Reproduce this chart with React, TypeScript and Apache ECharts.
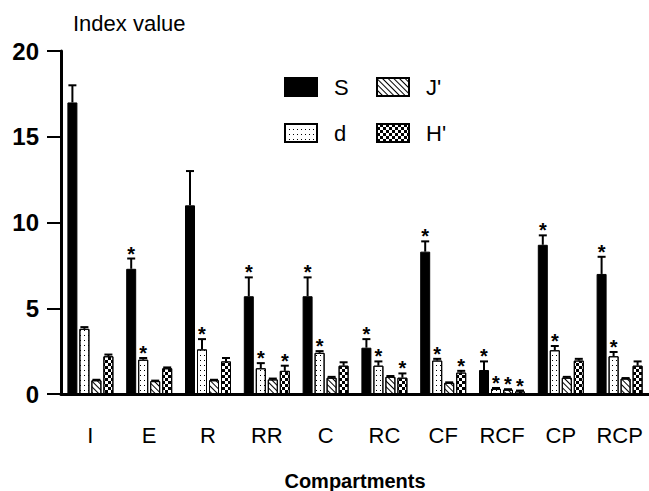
import { useEffect, useRef } from 'react';
import * as echarts from 'echarts';

const categories = ['I', 'E', 'R', 'RR', 'C', 'RC', 'CF', 'RCF', 'CP', 'RCP'];
const seriesNames = ['S', 'd', "J'", "H'"];

const S = [17.0, 7.3, 11.0, 5.7, 5.7, 2.7, 8.3, 1.4, 8.7, 7.0];
const S_err = [1.0, 0.6, 2.0, 1.1, 1.1, 0.5, 0.6, 0.5, 0.55, 1.0];
const S_sig = [0, 1, 0, 1, 1, 1, 1, 1, 1, 1];

const D = [3.8, 2.0, 2.6, 1.5, 2.4, 1.65, 1.95, 0.3, 2.55, 2.2];
const D_err = [0.1, 0.1, 0.6, 0.3, 0.1, 0.25, 0.1, 0.05, 0.25, 0.25];
const D_sig = [0, 1, 1, 1, 1, 1, 1, 1, 1, 1];

const J = [0.8, 0.75, 0.8, 0.85, 0.95, 1.0, 0.65, 0.25, 0.95, 0.9];
const J_err = [0.03, 0.03, 0.03, 0.05, 0.05, 0.05, 0.03, 0.03, 0.05, 0.03];
const J_sig = [0, 0, 0, 0, 0, 0, 0, 1, 0, 0];

const H = [2.2, 1.5, 1.9, 1.35, 1.65, 0.95, 1.25, 0.15, 1.95, 1.65];
const H_err = [0.1, 0.05, 0.2, 0.3, 0.2, 0.25, 0.1, 0.05, 0.1, 0.25];
const H_sig = [0, 0, 0, 1, 0, 1, 1, 1, 0, 0];

const yTicks = { min: 0, max: 20, interval: 5 };

const FONT = "'Liberation Sans', Arial, sans-serif";
const BAR_W = 10;
const PITCH = 12;

export default function App() {
  const ref = useRef<HTMLDivElement>(null);
  useEffect(() => {
    const chart = echarts.init(ref.current!, null, { renderer: 'svg' });

    const decals: any[] = [
      undefined,
      {
        symbol: 'rect',
        color: '#000',
        dashArrayX: [1, 3],
        dashArrayY: [1, 4],
        symbolSize: 1,
        rotation: 0,
      },
      {
        symbol: 'rect',
        color: '#000',
        dashArrayX: [1, 0],
        dashArrayY: [1, 3],
        symbolSize: 1,
        rotation: Math.PI / 4,
      },
      {
        symbol: 'rect',
        color: '#000',
        dashArrayX: [[3, 3], [0, 3, 3, 0]],
        dashArrayY: [3, 0],
        symbolSize: 1,
        rotation: 0,
      },
    ];
    const fills = ['#000', '#fff', '#fff', '#fff'];
    const values = [S, D, J, H];
    const errs = [S_err, D_err, J_err, H_err];
    const sigs = [S_sig, D_sig, J_sig, H_sig];

    const barSeries = seriesNames.map((name, k) => ({
      name,
      type: 'bar',
      data: values[k],
      barWidth: BAR_W,
      barGap: '20%',
      itemStyle: {
        color: fills[k],
        borderColor: '#000',
        borderWidth: 1,
        ...(decals[k] ? { decal: decals[k] } : {}),
      },
      z: 2,
    }));

    const errSeries = seriesNames.map((name, k) => ({
      name: name + '_err',
      type: 'custom',
      coordinateSystem: 'cartesian2d',
      data: values[k].map((v, i) => [i, v, errs[k][i], sigs[k][i]]),
      encode: { x: 0, y: 1 },
      z: 5,
      silent: true,
      renderItem: (params: any, api: any) => {
        const i = api.value(0);
        const v = api.value(1);
        const e = api.value(2);
        const sig = api.value(3);
        const base = api.coord([i, v]);
        const top = api.coord([i, v + e]);
        const x = base[0] + (k - 1.5) * PITCH;
        const children: any[] = [
          {
            type: 'line',
            shape: { x1: x, y1: base[1], x2: x, y2: top[1] },
            style: { stroke: '#000', lineWidth: 2 },
          },
          {
            type: 'line',
            shape: { x1: x - 4, y1: top[1], x2: x + 4, y2: top[1] },
            style: { stroke: '#000', lineWidth: 2 },
          },
        ];
        if (sig) {
          children.push({
            type: 'text',
            style: {
              text: '*',
              x,
              y: top[1] + 5,
              align: 'center',
              verticalAlign: 'bottom',
              fontSize: 20,
              fontWeight: 'bold',
              fill: '#000',
              fontFamily: FONT,
            },
          });
        }
        return { type: 'group', children };
      },
    }));

    const legendCommon = {
      orient: 'vertical',
      top: 76,
      padding: 0,
      itemWidth: 32,
      itemHeight: 18,
      itemGap: 24,
      icon: 'rect',
      selectedMode: false,
      textStyle: { fontSize: 22, color: '#000', fontFamily: FONT, padding: [0, 0, 0, 12] },
    };

    const option: any = {
      animation: false,
      backgroundColor: '#fff',
      title: {
        text: 'Index value',
        left: 68,
        top: 7,
        textStyle: { fontSize: 22, fontWeight: 'normal', color: '#000', fontFamily: FONT },
      },
      legend: [
        { ...legendCommon, left: 284, data: ['S', 'd'] },
        { ...legendCommon, left: 376, data: ["J'", "H'"] },
      ],
      grid: { left: 61, right: 0, top: 51, bottom: 97, containLabel: false, outerBoundsMode: 'none' },
      xAxis: {
        type: 'category',
        data: categories,
        name: 'Compartments',
        nameLocation: 'middle',
        nameGap: 77,
        nameTextStyle: { fontSize: 20, fontWeight: 'bold', color: '#000', fontFamily: FONT },
        axisLine: { lineStyle: { color: '#000', width: 3 } },
        axisTick: { alignWithLabel: true, length: 14, lineStyle: { color: '#000', width: 3 }, interval: 0 },
        axisLabel: { fontSize: 22, color: '#000', margin: 30, fontFamily: FONT, interval: 0 },
      },
      yAxis: {
        type: 'value',
        min: yTicks.min,
        max: yTicks.max,
        interval: yTicks.interval,
        axisLine: { show: true, lineStyle: { color: '#000', width: 3 } },
        axisTick: { show: true, length: 14, lineStyle: { color: '#000', width: 2 } },
        axisLabel: { fontSize: 24, fontWeight: 'bold', color: '#000', margin: 22, fontFamily: FONT },
        splitLine: { show: false },
      },
      series: [...barSeries, ...errSeries],
    };
    chart.setOption(option);
    return () => chart.dispose();
  }, []);
  return <div ref={ref} style={{ position: 'absolute', left: 0, top: 0, width: 649, height: 491 }} />;
}
